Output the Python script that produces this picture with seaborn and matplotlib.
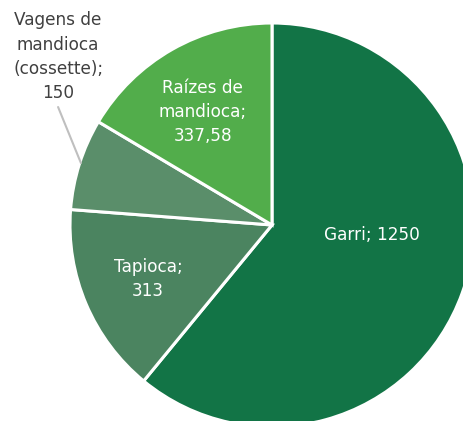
import matplotlib
matplotlib.use("Agg")
import matplotlib.pyplot as plt
import seaborn as sns

# data
categories = ["Garri", "Tapioca", "Vagens de\nmandioca\n(cossette)", "Raízes de\nmandioca"]
values = [1250, 313, 150, 337.58]
value_labels = ["1250", "313", "150", "337,58"]
colors = ["#127446", "#4b8460", "#5a8e6a", "#52ad4b"]

sns.set_theme(style="white")
plt.rcParams["font.family"] = ["DejaVu Sans"]

fig = plt.figure(figsize=(4.63, 4.21), dpi=100)
ax = fig.add_axes([0, 0, 1, 1])

ax.pie(values, colors=colors, startangle=90, counterclock=False,
       wedgeprops=dict(edgecolor="white", linewidth=2.2))

# pie is centred at pixel (272, 225), radius 202 px
ax.set_xlim(-272 / 202, (463 - 272) / 202)
ax.set_ylim((225 - 421) / 202, 225 / 202)
ax.set_aspect("equal")
ax.axis("off")

# label positions (data units)
label_pos = [(0.495, -0.05), (-0.614, -0.267), (-1.059, 0.832), (-0.342, 0.559)]
label_colors = ["white", "white", "#404040", "white"]
for cat, val, (x, y), c in zip(categories, value_labels, label_pos, label_colors):
    if cat == "Garri":
        txt = f"{cat}; {val}"
    else:
        txt = f"{cat};\n{val}"
    ax.text(x, y, txt, ha="center", va="center", color=c, fontsize=12.2,
            linespacing=1.45)

# leader line for the small slice
ax.plot([-1.059, -0.946], [0.584, 0.307], color="#bfbfbf", lw=1.5)

fig.savefig("out.png", dpi=100)
